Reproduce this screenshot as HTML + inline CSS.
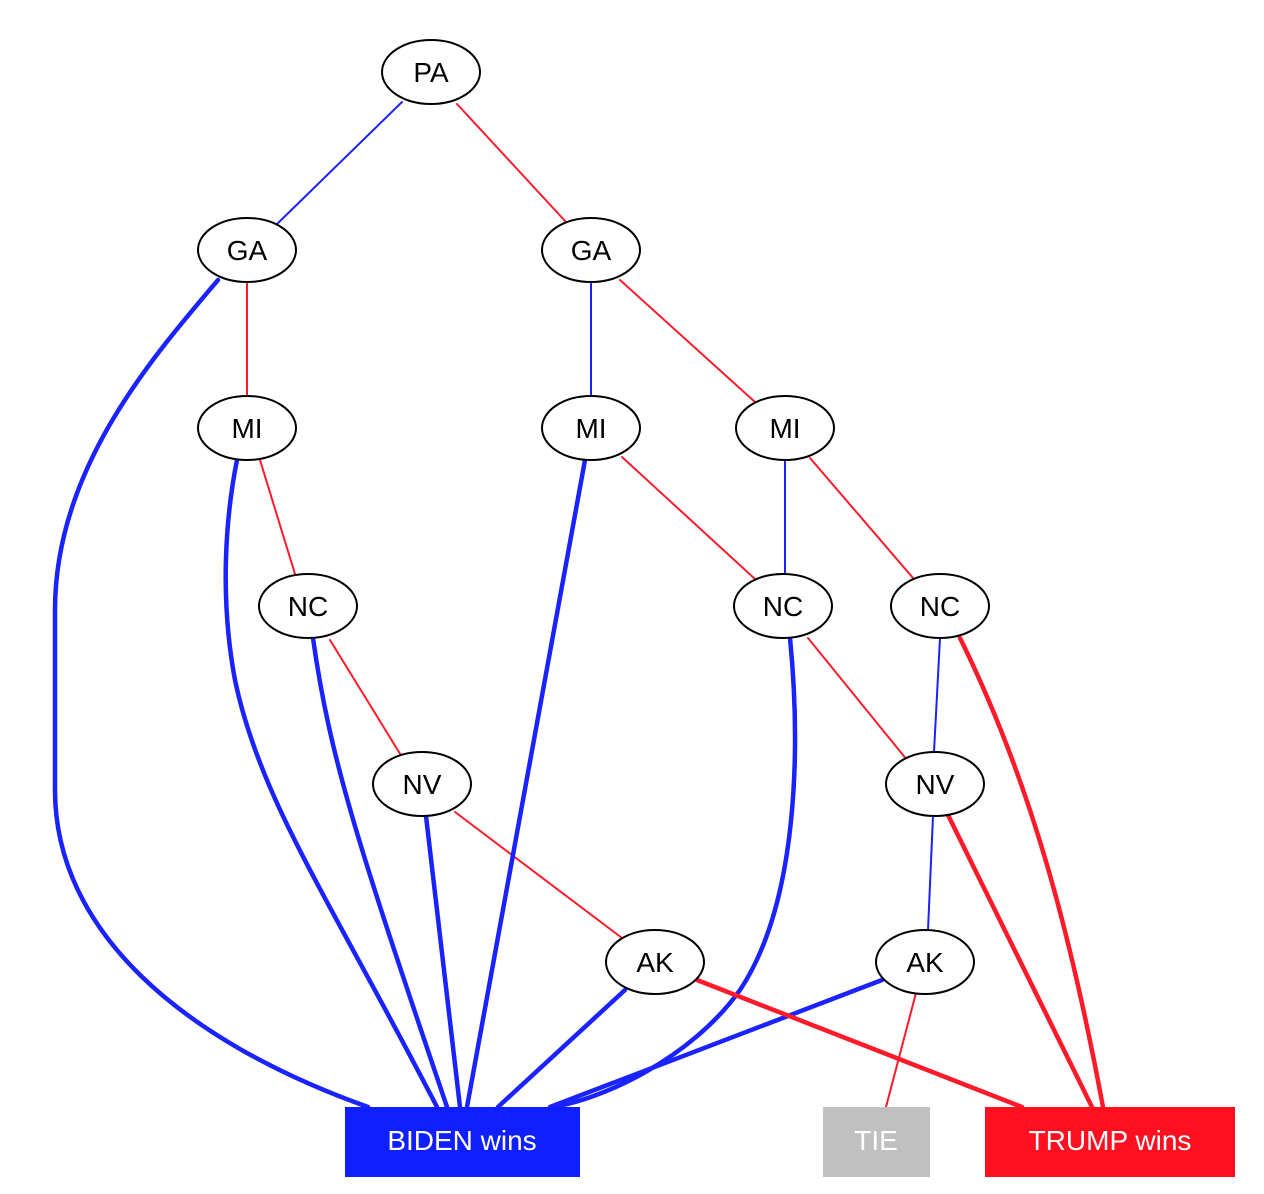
<!DOCTYPE html>
<html><head><meta charset="utf-8"><style>html,body{margin:0;padding:0;background:#fff}svg{display:block}</style></head>
<body>
<svg width="1264" height="1194" viewBox="0 0 1264 1194" xmlns="http://www.w3.org/2000/svg" font-family="Liberation Sans, Arial, sans-serif">
<g fill="none" stroke-linecap="round">
<g stroke="#1a22ff" stroke-width="2">
<line x1="402" y1="102" x2="276" y2="225"/>
<line x1="591" y1="282" x2="591" y2="396"/>
<line x1="785" y1="460" x2="785" y2="574"/>
<line x1="940" y1="638" x2="934" y2="752"/>
<line x1="933" y1="816" x2="928" y2="930"/>
</g>
<g stroke="#ff1a2a" stroke-width="2">
<line x1="457" y1="104" x2="566" y2="222"/>
<line x1="247" y1="282" x2="247" y2="396"/>
<line x1="620" y1="280" x2="755" y2="402"/>
<line x1="260" y1="460" x2="295" y2="574"/>
<line x1="330" y1="640" x2="402" y2="757"/>
<line x1="455" y1="812" x2="622" y2="938"/>
<line x1="622" y1="457" x2="755" y2="579"/>
<line x1="810" y1="458" x2="913" y2="578"/>
<line x1="808" y1="638" x2="907" y2="760"/>
<line x1="916" y1="993" x2="886" y2="1107"/>
</g>
<g stroke="#1a22ff" stroke-width="4.5">
<path d="M218,280 C150,360 55,470 55,610 L55,790 C55,930 180,1040 368,1107"/>
<path d="M237,460 C225,520 220,600 235,680 C260,800 330,900 437,1107"/>
<path d="M313,638 C330,760 360,850 447,1107"/>
<path d="M426,816 L460,1107"/>
<path d="M585,460 L467,1107"/>
<path d="M790,638 C800,740 800,900 740,990 C690,1060 600,1100 552,1107"/>
<path d="M625,990 L498,1107"/>
<path d="M882,980 L550,1107"/>
</g>
<g stroke="#ff1a2a" stroke-width="4.5">
<path d="M960,638 C1030,780 1070,930 1103,1107"/>
<path d="M948,815 L1092,1107"/>
<path d="M697,980 L1022,1107"/>
</g>
</g>
<g fill="#fff" stroke="#000" stroke-width="2">
<ellipse cx="431" cy="72" rx="49" ry="32"/>
<ellipse cx="247" cy="250" rx="49" ry="32"/>
<ellipse cx="591" cy="250" rx="49" ry="32"/>
<ellipse cx="247" cy="428" rx="49" ry="32"/>
<ellipse cx="591" cy="428" rx="49" ry="32"/>
<ellipse cx="785" cy="428" rx="49" ry="32"/>
<ellipse cx="308" cy="606" rx="49" ry="32"/>
<ellipse cx="783" cy="606" rx="49" ry="32"/>
<ellipse cx="940" cy="606" rx="49" ry="32"/>
<ellipse cx="422" cy="784" rx="49" ry="32"/>
<ellipse cx="935" cy="784" rx="49" ry="32"/>
<ellipse cx="655" cy="962" rx="49" ry="32"/>
<ellipse cx="925" cy="962" rx="49" ry="32"/>
</g>
<g font-size="28" text-anchor="middle" fill="#000">
<text x="431" y="82">PA</text>
<text x="247" y="260">GA</text>
<text x="591" y="260">GA</text>
<text x="247" y="438">MI</text>
<text x="591" y="438">MI</text>
<text x="785" y="438">MI</text>
<text x="308" y="616">NC</text>
<text x="783" y="616">NC</text>
<text x="940" y="616">NC</text>
<text x="422" y="794">NV</text>
<text x="935" y="794">NV</text>
<text x="655" y="972">AK</text>
<text x="925" y="972">AK</text>
</g>
<rect x="345" y="1107" width="235" height="70" fill="#0f1fff"/>
<rect x="823" y="1107" width="107" height="70" fill="#c0c0c0"/>
<rect x="985" y="1107" width="250" height="70" fill="#ff0f1f"/>
<g font-size="28" text-anchor="middle" fill="#fff">
<text x="462" y="1150">BIDEN wins</text>
<text x="876" y="1150">TIE</text>
<text x="1110" y="1150">TRUMP wins</text>
</g>
</svg>
</body></html>
